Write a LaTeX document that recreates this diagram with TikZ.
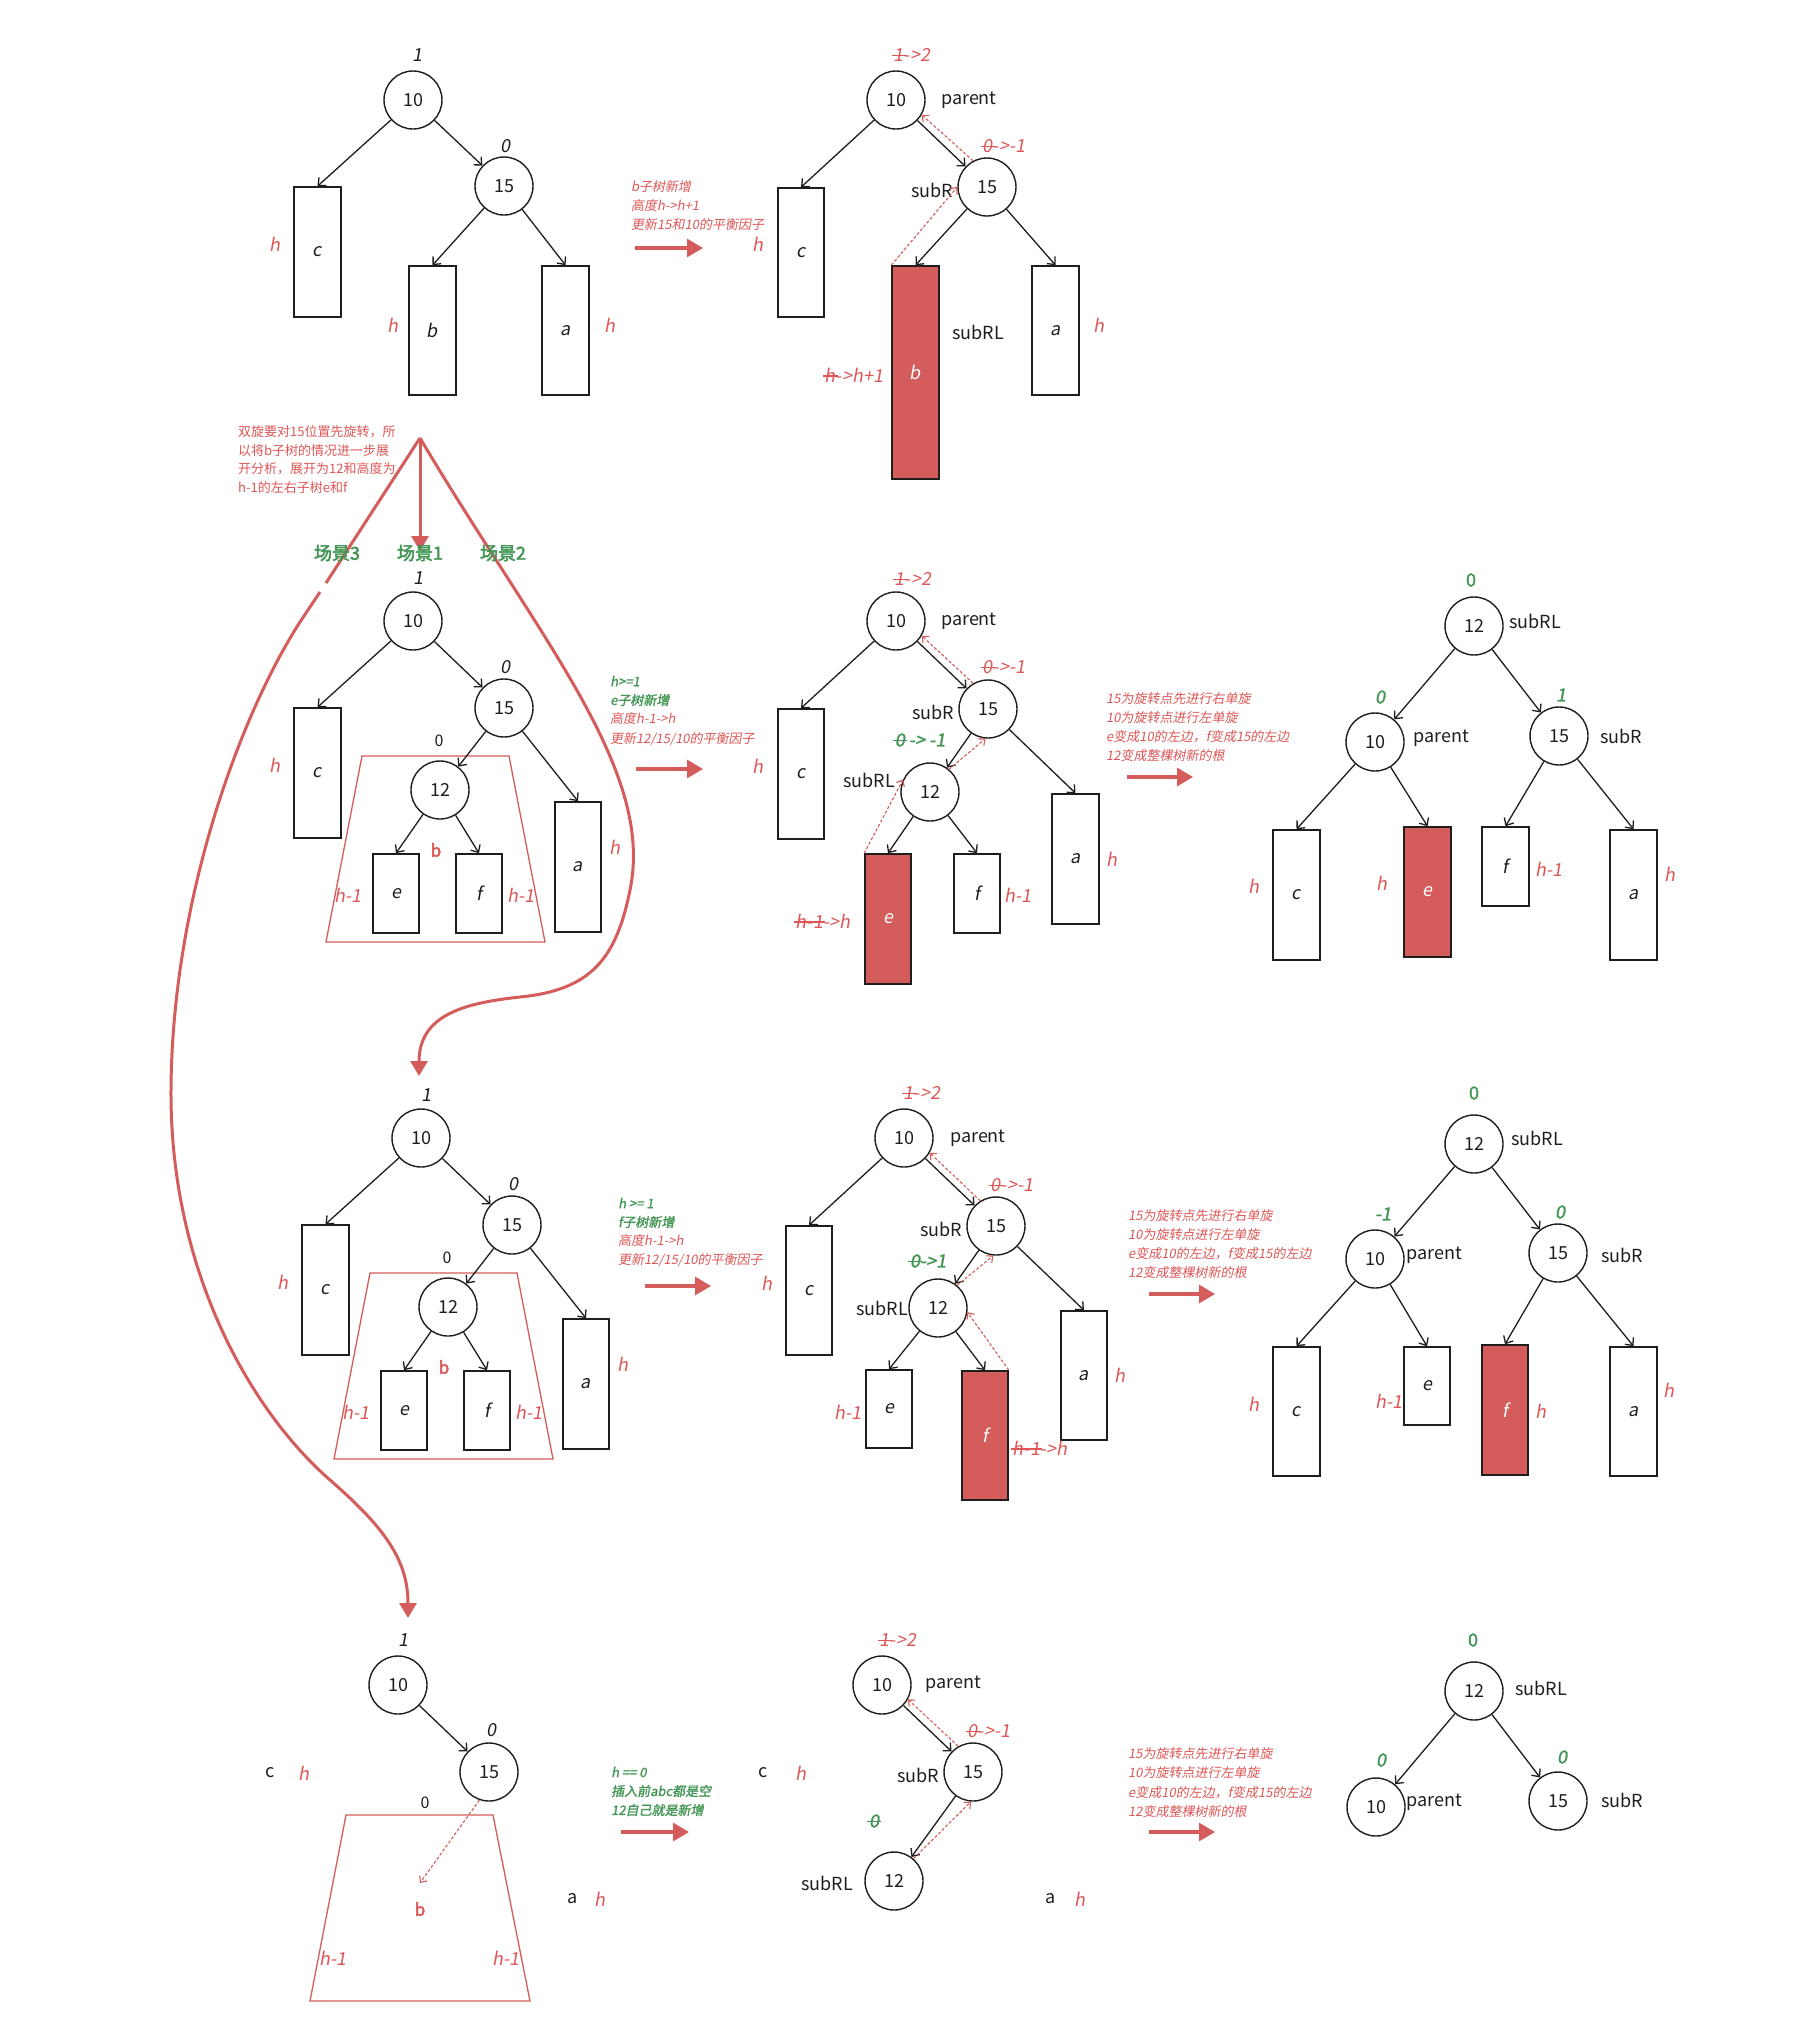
\documentclass[tikz,border=0pt]{standalone}
\usepackage{fontspec}
\setmainfont{Noto Sans CJK SC}
\newfontfamily\cjk{Noto Sans CJK SC}
\newfontfamily\cjkit{Noto Sans CJK SC}[FakeSlant=0.18]
\newfontfamily\cjkb{Noto Sans CJK SC}[FakeBold=1.5]
\newfontfamily\cjkbb{Noto Sans CJK SC}[FakeBold=2.6]
\newfontfamily\cjkbit{Noto Sans CJK SC}[FakeSlant=0.18,FakeBold=1.5]
\usetikzlibrary{arrows.meta}
\definecolor{rd}{RGB}{212,92,90}
\definecolor{rtxt}{RGB}{222,86,86}
\definecolor{gr}{RGB}{66,150,84}
\definecolor{ink}{RGB}{30,30,30}
\newcommand\fs[2]{\fontsize{#1}{#2}\selectfont}
\newcommand\stk[1]{{\setbox0\hbox{#1}\rlap{\kern-0.1em\raisebox{0.3em}{\rule{\dimexpr\wd0+0.2em\relax}{0.075em}}}\box0}}
\tikzset{
  circ/.style={circle,draw=ink,line width=1.4pt,minimum size=58pt,inner sep=0pt,font=\cjk\fs{18}{22},text=ink},
  bx/.style={draw=ink,line width=1.6pt,inner sep=0pt,font=\cjkit\fs{18}{22},text=ink,fill=white},
  rbx/.style={bx,fill=rd,text=white},
  arr/.style={ink,line width=1.3pt,-{Straight Barb[length=6pt,width=11pt]}},
  dsh/.style={rd,line width=1.1pt,densely dashed,-{Straight Barb[length=5pt,width=9pt]}},
  lab/.style={inner sep=0pt,font=\cjkit\fs{18}{22},text=ink},
  rlab/.style={inner sep=0pt,font=\cjkit\fs{18}{22},text=rtxt},
  nm/.style={inner sep=0pt,font=\cjk\fs{18}{22},text=ink},
  sm/.style={inner sep=0pt,font=\cjk\fs{16}{20},text=ink},
  glab/.style={inner sep=0pt,font=\cjkbit\fs{18}{22},text=gr},
  gup/.style={inner sep=0pt,font=\cjkb\fs{18}{22},text=gr},
  bb/.style={inner sep=0pt,font=\cjkbb\fs{17}{20},text=rtxt},
  nt/.style={inner sep=0pt,anchor=west,font=\cjkit\fs{13}{19},text=rtxt},
  gnt/.style={inner sep=0pt,anchor=west,font=\cjkbit\fs{13}{19},text=gr},
  pn/.style={inner sep=0pt,anchor=west,font=\cjk\fs{13}{19},text=rtxt},
  scn/.style={inner sep=0pt,font=\cjkbb\fs{18}{22},text=gr},
  trap/.style={draw=rd,line width=1.3pt},
  bigarr/.style={rd,line width=3.2pt,-{Triangle[length=16pt,width=18pt]}},
  curve/.style={rd,line width=3pt}
}
\newcommand\lefttree[1]{%
  \node[circ] (#1t10) at (413,621) {10};
  \node[circ] (#1t15) at (504,708) {15};
  \node[circ] (#1t12) at (440,790) {12};
  \node[bx,minimum width=47,minimum height=130] (#1c) at (317.5,773) {c};
  \node[bx,minimum width=46,minimum height=79] (#1e) at (396,893.5) {e};
  \node[bx,minimum width=46,minimum height=79] (#1f) at (479,893.5) {f};
  \node[bx,minimum width=46,minimum height=130] (#1a) at (578,867) {a};
  \draw[trap] (362,756) -- (509,756) -- (545,942) -- (326,942) -- cycle;
  \node[lab] (#1l10) at (418,578) {1};
  \node[lab] (#1l15) at (505,667) {0};
  \node[sm] (#1l12) at (439,741) {0};
  \node[bb] (#1lb) at (436,850) {b};
  \node[rlab] (#1le) at (348,895) {h-1};
  \node[rlab] (#1lf) at (521,895) {h-1};
  \node[rlab] (#1lc) at (275,765) {h};
  \node[rlab] (#1la) at (615,847) {h};
  \draw[arr] (#1t10) -- (#1c.north);
  \draw[arr] (#1t10) -- (#1t15);
  \draw[arr] (#1t15) -- (#1t12);
  \draw[arr] (#1t15) -- (#1a.north);
  \draw[arr] (#1t12) -- (#1e.north);
  \draw[arr] (#1t12) -- (#1f.north);
}
\begin{document}
\begin{tikzpicture}[x=1pt,y=-1pt]
\fill[white] (0,0) rectangle (1817,2032);
\useasboundingbox (0,0) rectangle (1817,2032);

% ---------- scenario curves ----------
\coordinate (apex) at (420,438);
\coordinate (s1) at (420,551);
\coordinate (gapA) at (326,583);
\coordinate (gapB) at (320,592);
\coordinate (s3) at (408,1618);
\coordinate (s2) at (419,1076);
\draw[curve] (apex) -- (gapA);
\draw[curve,-{Triangle[length=15pt,width=17pt]}] (gapB) -- (300,622) .. controls (240,715) and (172,900) .. (171,1090) .. controls (170,1270) and (250,1410) .. (330,1480) .. controls (385,1528) and (408,1560) .. (s3);
\draw[curve,-{Triangle[length=15pt,width=17pt]}] (apex) .. controls (540,640) and (655,770) .. (630,890) .. controls (616,960) and (590,990) .. (520,997) .. controls (464,1003) and (419,1015) .. (s2);
\draw[curve,-{Triangle[length=15pt,width=17pt]}] (apex) -- (s1);
\node[scn] (sc3) at (337,553) {场景3};
\node[scn] (sc1) at (420,553) {场景1};
\node[scn] (sc2) at (503,553) {场景2};
\node[pn] (p1) at (238,432) {双旋要对15位置先旋转，所};
\node[pn] (p2) at (238,451) {以将b子树的情况进一步展};
\node[pn] (p3) at (238,469) {开分析，展开为12和高度为};
\node[pn] (p4) at (238,488) {h-1的左右子树e和f};

% ---------- row 1 left ----------
\node[circ] (A10) at (413,100) {10};
\node[circ] (A15) at (504,186) {15};
\node[bx,minimum width=47,minimum height=130] (Ac) at (317.5,252) {c};
\node[bx,minimum width=47,minimum height=129] (Ab) at (432.5,330.5) {b};
\node[bx,minimum width=47,minimum height=129] (Aa) at (565.5,330.5) {a};
\node[lab] (A10f) at (417,55) {1};
\node[lab] (A15f) at (505,146) {0};
\node[rlab] (Ach) at (275,244) {h};
\node[rlab] (Abh) at (393,325) {h};
\node[rlab] (Aah) at (610,325) {h};
\draw[arr] (A10) -- (Ac.north);
\draw[arr] (A10) -- (A15);
\draw[arr] (A15) -- (Ab.north);
\draw[arr] (A15) -- (Aa.north);
\node[nt] (N1a) at (631,187) {b子树新增};
\node[nt] (N1b) at (631,206) {高度h->h+1};
\node[nt] (N1c) at (631,225) {更新15和10的平衡因子};
\coordinate (B1s) at (635,248); \coordinate (B1e) at (703,248);
\draw[bigarr] (B1s) -- (B1e);

% ---------- row 1 middle ----------
\node[circ] (B10) at (896,100) {10};
\node[circ] (B15) at (987,187) {15};
\node[bx,minimum width=46,minimum height=129] (Bc) at (801,252.5) {c};
\node[rbx,minimum width=47,minimum height=213] (Bb) at (915.5,372.5) {b};
\node[bx,minimum width=47,minimum height=129] (Ba) at (1055.5,330.5) {a};
\node[rlab] (B10f) at (912,55) {\stk{1}->2};
\node[nm,anchor=west] (B10n) at (941,100) {parent};
\node[rlab] (B15f) at (1004,146) {\stk{0}->-1};
\node[nm] (B15n) at (932,190) {subR};
\node[nm] (Bbn) at (978,332) {subRL};
\node[rlab] (Bch) at (758,244) {h};
\node[rlab] (Bbh) at (854,375) {\stk{h}->h+1};
\node[rlab] (Bah) at (1099,325) {h};
\draw[arr] (B10) -- (Bc.north);
\draw[arr] (B10) -- (B15);
\draw[arr] (B15) -- (Bb.north);
\draw[arr] (B15) -- (Ba.north);
\draw[dsh] (Bb.north west) -- (B15.west);
\draw[dsh] (B15.118) -- (B10.-30);

% ---------- row 2 left & row 3 left ----------
\lefttree{C}
\begin{scope}[shift={(8,517)}]
\lefttree{E}
\end{scope}
\node[gnt] (N2a) at (610,681) {h>=1};
\node[gnt] (N2b) at (610,700) {e子树新增};
\node[nt] (N2c) at (610,719) {高度h-1->h};
\node[nt] (N2d) at (610,739) {更新12/15/10的平衡因子};
\coordinate (B2s) at (636,769); \coordinate (B2e) at (703,769);
\draw[bigarr] (B2s) -- (B2e);
\node[gnt] (N3a) at (618,1203) {h >= 1};
\node[gnt] (N3b) at (618,1222) {f子树新增};
\node[nt] (N3c) at (618,1241) {高度h-1->h};
\node[nt] (N3d) at (618,1260) {更新12/15/10的平衡因子};
\coordinate (B3s) at (645,1286); \coordinate (B3e) at (711,1286);
\draw[bigarr] (B3s) -- (B3e);

% ---------- row 2 middle ----------
\node[circ] (D10) at (896,621) {10};
\node[circ] (D15) at (988,709) {15};
\node[circ] (D12) at (930,792) {12};
\node[bx,minimum width=46,minimum height=130] (Dc) at (801,774) {c};
\node[rbx,minimum width=46,minimum height=130] (De) at (888,919) {e};
\node[bx,minimum width=46,minimum height=79] (Df) at (977,893.5) {f};
\node[bx,minimum width=47,minimum height=130] (Da) at (1075.5,859) {a};
\node[rlab] (D10f) at (913,579) {\stk{1}->2};
\node[nm,anchor=west] (D10n) at (941,621) {parent};
\node[rlab] (D15f) at (1004,667) {\stk{0}->-1};
\node[nm] (D15n) at (933,712) {subR};
\node[glab] (D12f) at (920,740) {\stk{0} -> -1};
\node[nm] (D12n) at (869,780) {subRL};
\node[rlab] (Dch) at (758,766) {h};
\node[rlab] (Deh) at (823,921) {\stk{h-1}->h};
\node[rlab] (Dfh) at (1018,895) {h-1};
\node[rlab] (Dah) at (1112,859) {h};
\draw[arr] (D10) -- (Dc.north);
\draw[arr] (D10) -- (D15);
\draw[arr] (D15) -- (D12);
\draw[arr] (D15) -- (Da.north);
\draw[arr] (D12) -- (De.north);
\draw[arr] (D12) -- (Df.north);
\draw[dsh] (De.north west) -- (D12.155);
\draw[dsh] (D12.50) -- (D15.-95);
\draw[dsh] (D15.120) -- (D10.-30);

% ---------- row 3 middle ----------
\node[circ] (F10) at (904,1138) {10};
\node[circ] (F15) at (996,1226) {15};
\node[circ] (F12) at (938,1308) {12};
\node[bx,minimum width=46,minimum height=129] (Fc) at (809,1290.5) {c};
\node[bx,minimum width=46,minimum height=78] (Fe) at (889,1409) {e};
\node[rbx,minimum width=46,minimum height=129] (Ff) at (985,1435.5) {f};
\node[bx,minimum width=46,minimum height=129] (Fa) at (1084,1375.5) {a};
\node[rlab] (F10f) at (922,1093) {\stk{1}->2};
\node[nm,anchor=west] (F10n) at (950,1138) {parent};
\node[rlab] (F15f) at (1012,1185) {\stk{0}->-1};
\node[nm] (F15n) at (941,1229) {subR};
\node[glab] (F12f) at (928,1261) {\stk{0}->1};
\node[nm] (F12n) at (882,1308) {subRL};
\node[rlab] (Fch) at (767,1283) {h};
\node[rlab] (Feh) at (848,1412) {h-1};
\node[rlab] (Ffh) at (1040,1448) {\stk{h-1}->h};
\node[rlab] (Fah) at (1120,1375) {h};
\draw[arr] (F10) -- (Fc.north);
\draw[arr] (F10) -- (F15);
\draw[arr] (F15) -- (F12);
\draw[arr] (F15) -- (Fa.north);
\draw[arr] (F12) -- (Fe.north);
\draw[arr] (F12) -- (Ff.north);
\draw[dsh] (Ff.north east) -- (F12.-8);
\draw[dsh] (F12.50) -- (F15.-95);
\draw[dsh] (F15.122) -- (F10.-30);

% ---------- row 2 right ----------
\node[circ] (G12) at (1474,626) {12};
\node[circ] (G10) at (1375,742) {10};
\node[circ] (G15) at (1559,736) {15};
\node[bx,minimum width=47,minimum height=130] (Gc) at (1296.5,895) {c};
\node[rbx,minimum width=47,minimum height=130] (Ge) at (1427.5,892) {e};
\node[bx,minimum width=47,minimum height=79] (Gf) at (1505.5,866.5) {f};
\node[bx,minimum width=47,minimum height=130] (Ga) at (1633.5,895) {a};
\node[gup] (G12f) at (1471,580) {0};
\node[nm] (G12n) at (1535,621) {subRL};
\node[nm] (G10n) at (1441,738) {parent};
\node[glab] (G10f) at (1380,697) {0};
\node[nm] (G15n) at (1621,736) {subR};
\node[glab] (G15f) at (1561,695) {1};
\node[rlab] (Gch) at (1254,886) {h};
\node[rlab] (Geh) at (1382,883) {h};
\node[rlab] (Gfh) at (1549,869) {h-1};
\node[rlab] (Gah) at (1670,874) {h};
\draw[arr] (G12) -- (G10);
\draw[arr] (G12) -- (G15);
\draw[arr] (G10) -- (Gc.north);
\draw[arr] (G10) -- (Ge.north);
\draw[arr] (G15) -- (Gf.north);
\draw[arr] (G15) -- (Ga.north);
\node[nt] (N4a) at (1106,699) {15为旋转点先进行右单旋};
\node[nt] (N4b) at (1106,718) {10为旋转点进行左单旋};
\node[nt] (N4c) at (1106,737) {e变成10的左边，f变成15的左边};
\node[nt] (N4d) at (1106,756) {12变成整棵树新的根};
\coordinate (B4s) at (1127,777); \coordinate (B4e) at (1193,777);
\draw[bigarr] (B4s) -- (B4e);

% ---------- row 3 right ----------
\node[circ] (H12) at (1474,1144) {12};
\node[circ] (H10) at (1375,1259) {10};
\node[circ] (H15) at (1558,1253) {15};
\node[bx,minimum width=47,minimum height=129] (Hc) at (1296.5,1411.5) {c};
\node[bx,minimum width=46,minimum height=78] (He) at (1427,1386) {e};
\node[rbx,minimum width=46,minimum height=130] (Hf) at (1505,1410) {f};
\node[bx,minimum width=47,minimum height=129] (Ha) at (1633.5,1411.5) {a};
\node[gup] (H12f) at (1474,1093) {0};
\node[nm] (H12n) at (1537,1138) {subRL};
\node[nm] (H10n) at (1434,1255) {parent};
\node[glab] (H10f) at (1383,1214) {-1};
\node[nm] (H15n) at (1622,1255) {subR};
\node[glab] (H15f) at (1560,1212) {0};
\node[rlab] (Hch) at (1254,1404) {h};
\node[rlab] (Heh) at (1389,1401) {h-1};
\node[rlab] (Hfh) at (1541,1411) {h};
\node[rlab] (Hah) at (1669,1390) {h};
\draw[arr] (H12) -- (H10);
\draw[arr] (H12) -- (H15);
\draw[arr] (H10) -- (Hc.north);
\draw[arr] (H10) -- (He.north);
\draw[arr] (H15) -- (Hf.north);
\draw[arr] (H15) -- (Ha.north);
\node[nt] (N5a) at (1128,1216) {15为旋转点先进行右单旋};
\node[nt] (N5b) at (1128,1235) {10为旋转点进行左单旋};
\node[nt] (N5c) at (1128,1254) {e变成10的左边，f变成15的左边};
\node[nt] (N5d) at (1128,1273) {12变成整棵树新的根};
\coordinate (B5s) at (1149,1294); \coordinate (B5e) at (1215,1294);
\draw[bigarr] (B5s) -- (B5e);

% ---------- row 4 left ----------
\node[circ] (I10) at (398,1685) {10};
\node[circ] (I15) at (489,1772) {15};
\node[lab] (I10f) at (403,1640) {1};
\node[lab] (I15f) at (491,1730) {0};
\node[nm] (Ic) at (270,1773) {c};
\node[rlab] (Ich) at (304,1773) {h};
\node[sm] (Ibf) at (425,1803) {0};
\draw[trap] (346,1815) -- (493,1815) -- (530,2001) -- (310,2001) -- cycle;
\coordinate (Ib) at (420,1883);
\draw[dsh] (I15.-109) -- (Ib);
\node[bb] (Ibl) at (420,1909) {b};
\node[rlab] (Ibh1) at (333,1958) {h-1};
\node[rlab] (Ibh2) at (506,1958) {h-1};
\node[nm] (Ia) at (573,1899) {a};
\node[rlab] (Iah) at (600,1899) {h};
\draw[arr] (I10) -- (I15);
\node[gnt] (N6a) at (611,1772) {h == 0};
\node[gnt] (N6b) at (611,1791) {插入前abc都是空};
\node[gnt] (N6c) at (611,1810) {12自己就是新增};
\coordinate (B6s) at (621,1832); \coordinate (B6e) at (689,1832);
\draw[bigarr] (B6s) -- (B6e);

% ---------- row 4 middle ----------
\node[circ] (J10) at (882,1685) {10};
\node[circ] (J15) at (973,1772) {15};
\node[circ] (J12) at (894,1881) {12};
\node[rlab] (J10f) at (898,1640) {\stk{1}->2};
\node[nm] (J10n) at (953,1684) {parent};
\node[rlab] (J15f) at (989,1731) {\stk{0}->-1};
\node[nm] (J15n) at (918,1775) {subR};
\node[glab] (J12f) at (874,1821) {\stk{0}};
\node[nm] (J12n) at (827,1883) {subRL};
\node[nm] (Jc) at (763,1773) {c};
\node[rlab] (Jch) at (801,1773) {h};
\node[nm] (Ja) at (1051,1899) {a};
\node[rlab] (Jah) at (1080,1899) {h};
\draw[arr] (J10) -- (J15);
\draw[arr] (J15) -- (J12);
\draw[dsh] (J15.120) -- (J10.-29);
\draw[dsh] (J12.49) -- (J15.-94);
\node[nt] (N7a) at (1128,1754) {15为旋转点先进行右单旋};
\node[nt] (N7b) at (1128,1773) {10为旋转点进行左单旋};
\node[nt] (N7c) at (1128,1793) {e变成10的左边，f变成15的左边};
\node[nt] (N7d) at (1128,1812) {12变成整棵树新的根};
\coordinate (B7s) at (1149,1832); \coordinate (B7e) at (1215,1832);
\draw[bigarr] (B7s) -- (B7e);

% ---------- row 4 right ----------
\node[circ] (K12) at (1474,1691) {12};
\node[circ] (K10) at (1376,1807) {10};
\node[circ] (K15) at (1558,1801) {15};
\node[gup] (K12f) at (1473,1640) {0};
\node[nm] (K12n) at (1541,1688) {subRL};
\node[nm] (K10n) at (1434,1802) {parent};
\node[glab] (K10f) at (1381,1760) {0};
\node[nm] (K15n) at (1622,1800) {subR};
\node[glab] (K15f) at (1562,1757) {0};
\draw[arr] (K12) -- (K10);
\draw[arr] (K12) -- (K15);
\end{tikzpicture}
\end{document}
